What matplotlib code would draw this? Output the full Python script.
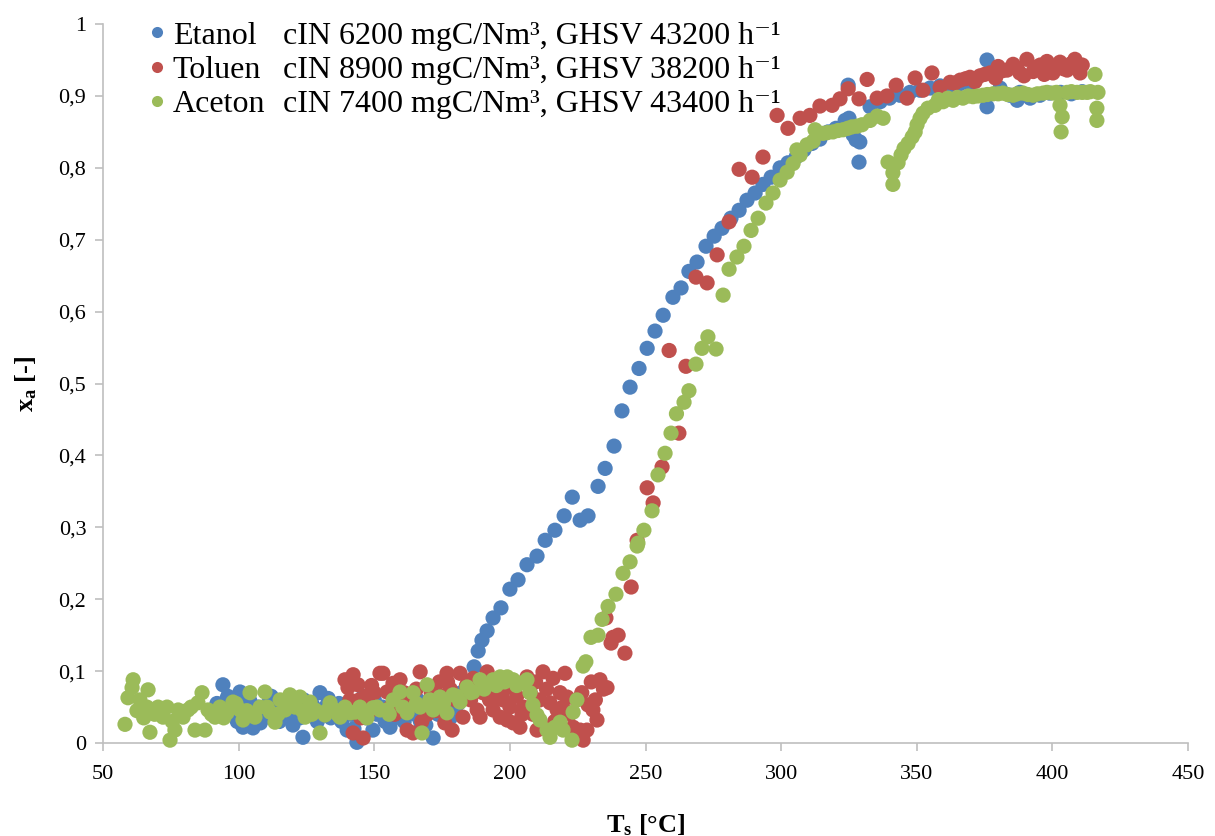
import matplotlib
matplotlib.use("Agg")
import matplotlib.pyplot as plt
from matplotlib.ticker import FuncFormatter, MultipleLocator
from matplotlib.lines import Line2D

plt.rcParams['font.family'] = ['Liberation Serif', 'DejaVu Serif']
plt.rcParams['mathtext.default'] = 'regular'

# Etanol
t_etanol = [92, 94.2, 95.5, 97, 98.5, 100.5, 101.6, 103, 105.3, 107, 109, 111, 113, 115, 117,
            119, 121, 122.5, 123.7, 125, 127, 128.5, 130, 132, 134, 136, 138, 140, 141.5, 143.6,
            145, 147, 149.5, 151, 153, 155.8, 157.5, 159, 161, 163, 165, 167, 168.5, 170, 171.7,
            173.5, 175, 177, 179, 181, 183, 184.5,
            186.8, 188.3, 189.7, 191.6, 193.8, 196.7, 200, 203, 206.3, 210, 213, 216.6, 220, 223,
            225.9, 228.8, 232.5, 235.1, 238.4, 241.3, 244.3, 247.6, 250.6, 253.5, 256.5, 260.1,
            263.1, 266, 269, 272.3, 275.3, 278.2, 281.5, 284.5, 287.4, 290.4, 293.3, 296.3, 299.6,
            302.5, 305.5, 308.4, 311.4, 314.3, 317.3, 320.2, 323.6, 324.7, 325, 326.5, 327.6, 328.7,
            329, 332.8, 336.5, 340, 343.8, 347.5, 351.2, 354.9, 358.6, 362, 365.9, 369.6, 375.9,
            375.9, 380.7, 384.4, 387, 388, 391.8, 395.4, 399, 403, 407, 411,
            96, 99.5, 104, 108, 112, 116, 120, 124, 129, 133, 137, 142.5, 146, 150, 154, 158, 162,
            166, 169, 174, 178, 182]
x_etanol = [0.055, 0.081, 0.06, 0.045, 0.05, 0.071, 0.022, 0.04, 0.021, 0.05, 0.035, 0.055, 0.045,
            0.03, 0.05, 0.04, 0.06, 0.035, 0.008, 0.045, 0.055, 0.04, 0.070, 0.05, 0.035, 0.045,
            0.03, 0.018, 0.04, 0.001, 0.05, 0.035, 0.018, 0.04, 0.05, 0.022, 0.035, 0.045, 0.03,
            0.05, 0.04, 0.03, 0.045, 0.055, 0.007, 0.04, 0.05, 0.06, 0.045, 0.055, 0.065, 0.08,
            0.106, 0.128, 0.143, 0.156, 0.174, 0.188, 0.214, 0.227, 0.248, 0.26, 0.282, 0.296,
            0.316, 0.342, 0.31, 0.316, 0.357, 0.382, 0.413, 0.462, 0.495, 0.521, 0.549, 0.573,
            0.595, 0.62, 0.633, 0.656, 0.669, 0.691, 0.705, 0.716, 0.730, 0.741, 0.755, 0.765,
            0.777, 0.787, 0.800, 0.807, 0.815, 0.825, 0.834, 0.840, 0.850, 0.855, 0.866, 0.915,
            0.869, 0.846, 0.839, 0.808, 0.836, 0.885, 0.892, 0.897, 0.901, 0.905, 0.908, 0.911,
            0.914, 0.915, 0.917, 0.917, 0.950, 0.885, 0.911, 0.901, 0.894, 0.905, 0.897, 0.901,
            0.904, 0.905, 0.903, 0.906,
            0.065, 0.03, 0.06, 0.028, 0.065, 0.055, 0.025, 0.06, 0.03, 0.062, 0.055, 0.02, 0.065,
            0.06, 0.03, 0.065, 0.045, 0.06, 0.025, 0.065, 0.035, 0.07]

# Toluen
t_toluen = [139.2, 140.3, 141, 142.2, 142.2, 143, 144, 145, 145.9, 147, 148.5, 150, 152.1, 153.2,
            154.7, 156, 156.9, 158, 159.5, 160.5, 162.1, 163, 164.3, 165.5, 166.9, 168, 169.5, 171,
            172.5, 174, 175, 176, 176.8, 178, 178.7, 180, 181.6, 182.7, 184, 185.5, 186.5, 187.9,
            189, 190, 191.6, 192.5, 193.8, 195, 196.4, 197.5, 199, 200, 201.2, 202.5, 203.7, 205,
            206.3, 207.5, 208.5, 210, 211, 212.2, 213.5, 214.8, 215.9, 217.4, 218.5, 220.3, 221.1,
            222, 223.3, 224.5, 225.9, 227, 228.4, 228.8, 230, 230.6, 232.1, 233.2, 234.5, 235.8,
            235.4, 237.3, 238, 239.9, 242.4, 244.7, 246.9, 250.6, 252.8, 256.1, 262.3, 258.7, 264.9,
            268.6, 272.7, 276.4, 280.8, 284.5, 289.3, 293.3, 298.5, 302.5, 307, 310.6, 314.3, 318.8,
            321.7, 324.7, 328.7, 331.7, 335.4, 339, 342.4, 346.4, 349.4, 352.3, 355.6, 358.6, 362.3,
            366, 369.6, 373.3, 377, 380, 383.3, 385.5, 388, 390.6, 392.9, 395.5, 398, 400.2, 402.8,
            405.4, 408.3, 410.2, 411,
            144.5, 149, 157.5, 161, 167.5, 173, 177, 183.5, 188.5, 194.5, 198, 204.5, 209.5, 216.5,
            219.5, 226.5, 231.5, 364, 368, 371.5, 375, 379, 381.5, 387, 389.5, 394, 397, 401.5,
            404, 407, 409.5]
x_toluen = [0.088, 0.077, 0.06, 0.095, 0.014, 0.05, 0.081, 0.035, 0.007, 0.065, 0.045, 0.07, 0.097,
            0.097, 0.071, 0.05, 0.083, 0.06, 0.088, 0.045, 0.018, 0.06, 0.014, 0.075, 0.099, 0.05,
            0.04, 0.07, 0.055, 0.085, 0.065, 0.028, 0.097, 0.075, 0.018, 0.06, 0.097, 0.036, 0.08,
            0.06, 0.09, 0.046, 0.036, 0.07, 0.099, 0.06, 0.046, 0.075, 0.036, 0.06, 0.032, 0.05,
            0.028, 0.065, 0.022, 0.05, 0.092, 0.07, 0.04, 0.018, 0.06, 0.099, 0.075, 0.056, 0.090,
            0.046, 0.07, 0.097, 0.064, 0.04, 0.022, 0.06, 0.018, 0.004, 0.018, 0.053, 0.085, 0.046,
            0.032, 0.088, 0.075, 0.077,
            0.174, 0.139, 0.147, 0.150, 0.125, 0.217, 0.282, 0.355, 0.334, 0.384, 0.431, 0.546,
            0.524, 0.648, 0.640, 0.679, 0.725, 0.798, 0.787, 0.815, 0.873, 0.855, 0.869, 0.873,
            0.886, 0.887, 0.896, 0.910, 0.896, 0.923, 0.897, 0.900, 0.915, 0.897, 0.925, 0.908,
            0.932, 0.912, 0.919, 0.922, 0.926, 0.928, 0.932, 0.941, 0.936, 0.944, 0.932, 0.951,
            0.934, 0.943, 0.948, 0.932, 0.947, 0.936, 0.951, 0.932, 0.943,
            0.06, 0.08, 0.04, 0.07, 0.03, 0.045, 0.085, 0.065, 0.075, 0.06, 0.075, 0.04, 0.085,
            0.03, 0.05, 0.07, 0.06, 0.918, 0.924, 0.92, 0.93, 0.925, 0.935, 0.938, 0.928, 0.94,
            0.93, 0.942, 0.938, 0.945, 0.94]

# Aceton
t_aceton = [58.1, 59.2, 60.7, 61.1, 63.6, 66.2, 66.6, 67.3, 70.3, 72.1, 73.6, 74.7, 76.5, 77.7,
            79.5, 81.3, 83.9, 85, 86.5, 87.6, 88.7, 91.3, 93.1, 95.7, 97.9, 100.5, 101.6, 104.2,
            106, 107.9, 109.7, 111.6, 113.4, 115.3, 117.1, 118.9, 120.8, 122.6, 124.5, 126.3,
            128.2, 130, 131.8, 133.7, 135.5, 137.4, 139.2, 141.1, 142.9, 144.7, 147.3, 149.5,
            152.1, 154.7, 157, 159.5, 162.1, 164.3, 166.9, 167.6, 169.5, 171.7, 174.2, 176.8, 179,
            181.6, 184.2, 186.4, 189, 191.6, 193.8, 196.4, 199, 201.2, 203.7, 206.3, 207.4, 208.5,
            210, 211.1, 213.7, 214.8, 216.6, 218.5, 219.6, 222.9, 223.3, 224.7,
            227, 228, 229.9, 232.5, 234, 236.2, 239.1, 241.7, 244.3, 246.9, 247.2, 249.4, 252.4,
            254.6, 257.2, 259.4, 261.4, 264.2, 266, 268.6, 270.8, 273, 276, 278.6, 280.8, 283.7,
            286.3, 288.9, 291.5, 294.4, 297, 299.6, 302.2, 304.4, 305.8, 307, 309.5, 311.8, 312.5,
            315.4, 319.1, 322.8, 326.1, 329.8, 332.8, 335.4, 337.6, 339.4, 341.2, 341.2, 343.1,
            344.2, 345.3, 346.8, 348.3, 349.4, 350.1, 351.2, 352.3, 354.1, 356.7, 359.7, 363.4,
            367, 370.7, 374.4, 378.1, 381.8, 385.5, 389.2, 392.9, 396.6, 400.2, 402.8, 403.6,
            403.2, 405.4, 409.1, 412.8, 415.7, 416.8, 416.4, 416.4,
            62.5, 65, 69, 71, 75.5, 78.5, 82.5, 90, 94.5, 99, 103, 105, 110.5, 114.5, 119.5, 123.5,
            127, 132.5, 136.5, 140, 146, 151, 155.5, 160.5, 165.5, 170.5, 175.5, 180.5, 185.5,
            190.5, 195, 198, 202.5, 205, 358, 361.5, 365, 369, 372.5, 376, 380, 383.5, 387, 391,
            394.5, 398, 401.5, 407, 411, 414, 317, 321, 324.5, 328]
x_aceton = [0.026, 0.063, 0.077, 0.088, 0.060, 0.050, 0.074, 0.015, 0.050, 0.036, 0.050, 0.004,
            0.018, 0.046, 0.036, 0.046, 0.018, 0.056, 0.070, 0.018, 0.046, 0.036, 0.050, 0.042,
            0.057, 0.046, 0.032, 0.070, 0.036, 0.050, 0.071, 0.043, 0.029, 0.060, 0.046, 0.067,
            0.050, 0.064, 0.036, 0.057, 0.046, 0.014, 0.039, 0.056, 0.046, 0.036, 0.050, 0.042,
            0.043, 0.050, 0.035, 0.049, 0.046, 0.046, 0.060, 0.071, 0.042, 0.070, 0.050, 0.014,
            0.081, 0.046, 0.064, 0.042, 0.067, 0.057, 0.078, 0.071, 0.088, 0.081, 0.088, 0.092,
            0.092, 0.088, 0.083, 0.088, 0.070, 0.053, 0.039, 0.032, 0.018, 0.008, 0.022, 0.029,
            0.018, 0.004, 0.043, 0.060,
            0.107, 0.113, 0.147, 0.150, 0.172, 0.190, 0.207, 0.236, 0.252, 0.274, 0.278, 0.296,
            0.323, 0.373, 0.403, 0.431, 0.458, 0.474, 0.490, 0.527, 0.549, 0.565, 0.548, 0.623,
            0.659, 0.676, 0.691, 0.713, 0.730, 0.751, 0.765, 0.783, 0.794, 0.806, 0.825, 0.818,
            0.832, 0.837, 0.853, 0.848, 0.850, 0.853, 0.857, 0.860, 0.866, 0.872, 0.869, 0.808,
            0.793, 0.777, 0.807, 0.818, 0.827, 0.834, 0.843, 0.850, 0.860, 0.869, 0.876, 0.883,
            0.887, 0.892, 0.894, 0.897, 0.899, 0.901, 0.903, 0.904, 0.901, 0.904, 0.901, 0.904,
            0.904, 0.887, 0.871, 0.850, 0.905, 0.905, 0.905, 0.930, 0.905, 0.883, 0.866,
            0.045, 0.035, 0.04, 0.045, 0.03, 0.04, 0.05, 0.04, 0.035, 0.055, 0.045, 0.04, 0.05,
            0.04, 0.055, 0.045, 0.04, 0.045, 0.04, 0.045, 0.04, 0.05, 0.04, 0.05, 0.055, 0.06,
            0.055, 0.065, 0.07, 0.075, 0.08, 0.085, 0.08, 0.084, 0.895, 0.897, 0.898, 0.9, 0.9,
            0.902, 0.903, 0.902, 0.903, 0.902, 0.903, 0.905, 0.905, 0.906, 0.905, 0.906, 0.849,
            0.852, 0.855, 0.858]

series = [
    ('Etanol', 'cIN 6200 mgC/Nm³, GHSV 43200 h⁻¹', t_etanol, x_etanol, '#4F81BD'),
    ('Toluen', 'cIN 8900 mgC/Nm³, GHSV 38200 h⁻¹', t_toluen, x_toluen, '#C0504D'),
    ('Aceton', 'cIN 7400 mgC/Nm³, GHSV 43400 h⁻¹', t_aceton, x_aceton, '#9BBB59'),
]

fig = plt.figure(figsize=(12.15, 8.36), dpi=100)
ax = fig.add_axes([0.0848, 0.1112, 0.893, 0.860])

for name, desc, t, xa, color in series:
    ax.scatter(t, xa, s=120, color=color, edgecolors='none', clip_on=False, zorder=3)

ax.set_xlim(50, 450)
ax.set_ylim(0, 1)
ax.xaxis.set_major_locator(MultipleLocator(50))
ax.yaxis.set_major_locator(MultipleLocator(0.1))
ax.yaxis.set_major_formatter(FuncFormatter(lambda v, p: ('%g' % round(v, 1)).replace('.', ',')))

for side in ('top', 'right'):
    ax.spines[side].set_visible(False)
for side in ('left', 'bottom'):
    ax.spines[side].set_color('#BFBFBF')
    ax.spines[side].set_linewidth(1.2)
ax.tick_params(direction='out', length=6, color='#BFBFBF', width=1.2, labelsize=16)
ax.tick_params(axis='x', pad=10)
ax.tick_params(axis='y', pad=6)

ax.set_xlabel('T$_s$ [°C]', fontsize=19, fontweight='bold', labelpad=20)
ax.set_ylabel('x$_a$ [-]', fontsize=19, fontweight='bold', labelpad=14)

# legend: names next to markers, descriptions in a second aligned column
leg_kw = dict(loc='upper left', frameon=False, fontsize=23, labelspacing=0.15, borderpad=0.2)
handles = [Line2D([], [], marker='o', linestyle='none', markersize=8, color=c, markeredgewidth=0)
           for _, _, _, _, c in series]
leg1 = ax.legend(handles, [s[0] for s in series], bbox_to_anchor=(0.017, 1.035),
                 handletextpad=0.1, handlelength=0.8, **leg_kw)
ax.add_artist(leg1)
blank = [Line2D([], [], linestyle='none') for _ in series]
ax.legend(blank, [s[1] for s in series], bbox_to_anchor=(0.145, 1.035),
          handletextpad=0, handlelength=0, **leg_kw)

fig.savefig('out.png', dpi=100)
